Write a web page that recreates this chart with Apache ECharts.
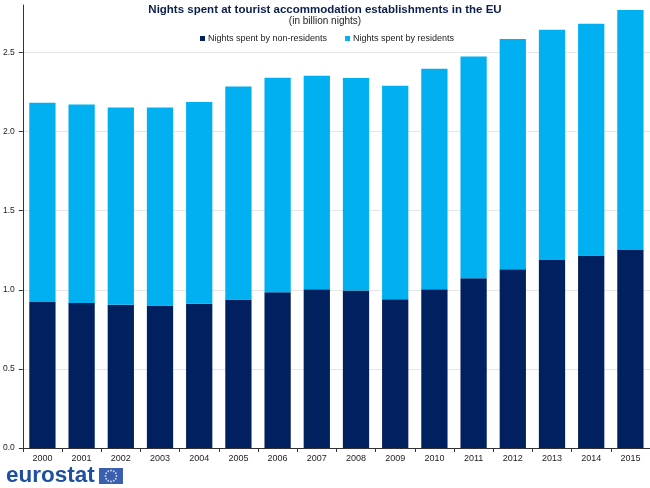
<!DOCTYPE html>
<html>
<head>
<meta charset="utf-8">
<script src="https://cdn.jsdelivr.net/npm/echarts@6/dist/echarts.min.js"></script>
<style>html,body{margin:0;padding:0;background:#fff}#c{width:650px;height:488px}</style>
</head>
<body>
<div id="c"></div>
<script>
const years = ['2000','2001','2002','2003','2004','2005','2006','2007','2008','2009','2010','2011','2012','2013','2014','2015'];
const nonResidents = [0.923,0.917,0.906,0.900,0.911,0.938,0.985,1.004,0.995,0.940,1.004,1.073,1.130,1.189,1.216,1.252];
const residents = [1.259,1.254,1.246,1.252,1.276,1.347,1.355,1.349,1.343,1.350,1.393,1.402,1.455,1.455,1.466,1.516];
const yTicks = [0, 0.5, 1.0, 1.5, 2.0, 2.5];

const chart = echarts.init(document.getElementById('c'));
const F = 'Liberation Sans, Arial, sans-serif';

const stars = [];
for (let i = 0; i < 12; i++) {
  const a = i / 12 * Math.PI * 2;
  stars.push({type:'circle', shape:{cx:111 + Math.cos(a)*5.5, cy:476 + Math.sin(a)*5.5, r:0.9}, style:{fill:'#c9d3ea'}});
}

chart.setOption({
  animation: false,
  title: [{
    text: 'Nights spent at tourist accommodation establishments in the EU',
    left: 'center', top: 4, padding: 0,
    textStyle: {fontFamily: F, fontSize: 11.5, fontWeight: 'bold', color: '#0b1f4e'}
  }, {
    text: '(in billion nights)',
    left: 'center', top: 16, padding: 0,
    textStyle: {fontFamily: F, fontSize: 10, fontWeight: 'normal', color: '#222'}
  }],
  legend: {
    left: 200, top: 34, padding: 0,
    itemWidth: 5, itemHeight: 5, itemGap: 18,
    icon: 'rect',
    textStyle: {fontFamily: F, fontSize: 9, color: '#222', padding: [0,0,0,-2]},
    data: ['Nights spent by non-residents', 'Nights spent by residents']
  },
  grid: {left: 21.5, right: 0, top: 5, bottom: 40, containLabel: false},
  xAxis: {
    type: 'category', data: years,
    axisLine: {lineStyle: {color: '#333', width: 1}},
    axisTick: {show: true, alignWithLabel: false, length: 4, lineStyle: {color: '#333'}},
    axisLabel: {fontFamily: F, fontSize: 9, color: '#222', margin: 6}
  },
  yAxis: {
    type: 'value', min: 0, max: 2.8, interval: 0.5,
    axisLine: {show: true, lineStyle: {color: '#333', width: 1}},
    axisTick: {show: true, length: 4, lineStyle: {color: '#333'}},
    axisLabel: {fontFamily: F, fontSize: 8.5, color: '#222', margin: 8, showMaxLabel: false,
      formatter: v => yTicks.includes(v) ? v.toFixed(1) : ''},
    splitLine: {show: true, showMaxLine: false, lineStyle: {color: '#e6e6e6', width: 1}}
  },
  series: [{
    name: 'Nights spent by non-residents', type: 'bar', stack: 't',
    data: nonResidents, barWidth: '67%',
    itemStyle: {color: '#002060'}
  }, {
    name: 'Nights spent by residents', type: 'bar', stack: 't',
    data: residents, barWidth: '67%',
    itemStyle: {color: '#00b0f0'}
  }],
  graphic: [{
    type: 'text', left: 6, top: 464,
    style: {text: 'eurostat', fontFamily: F, fontSize: 22.5, fontWeight: 'bold', fill: '#1f4f9f'}
  }, {
    type: 'rect', shape: {x: 99, y: 468, width: 24, height: 16}, style: {fill: '#3a5fae'}
  }].concat(stars)
});
</script>
</body>
</html>
